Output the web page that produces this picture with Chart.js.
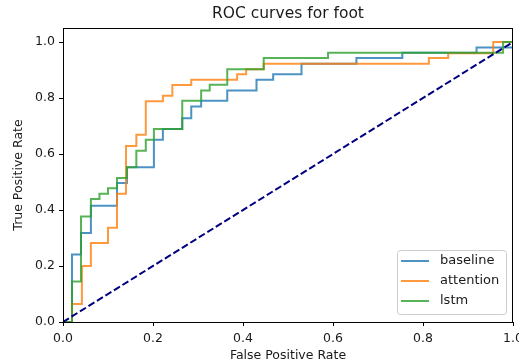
<!DOCTYPE html>
<html>
<head>
<meta charset="utf-8">
<script src="https://cdn.jsdelivr.net/npm/chart.js@4"></script>
<style>
  html, body { margin: 0; padding: 0; background: #fff; }
  #wrap { width: 519px; height: 364px; position: relative; }
</style>
</head>
<body>
<div id="wrap"><canvas id="roc"></canvas></div>
<script>
// ROC curve corners (fpr, tpr); drawn as horizontal-then-vertical steps
const baselineFpr = [0, 0.02, 0.04, 0.062, 0.12, 0.142, 0.202, 0.222, 0.265, 0.285, 0.307, 0.365, 0.43, 0.467, 0.53, 0.652, 0.754, 0.919, 1.0];
const baselineTpr = [0, 0.241, 0.318, 0.415, 0.496, 0.553, 0.651, 0.689, 0.728, 0.77, 0.79, 0.827, 0.865, 0.885, 0.922, 0.943, 0.962, 0.98, 1.0];

const attentionFpr = [0, 0.02, 0.042, 0.062, 0.10, 0.12, 0.14, 0.163, 0.184, 0.222, 0.243, 0.285, 0.387, 0.407, 0.446, 0.813, 0.856, 0.956, 1.0];
const attentionTpr = [0, 0.064, 0.2, 0.282, 0.337, 0.458, 0.629, 0.669, 0.788, 0.808, 0.846, 0.865, 0.885, 0.903, 0.922, 0.943, 0.96, 1.0, 1.0];

const lstmFpr = [0, 0.02, 0.04, 0.062, 0.081, 0.10, 0.12, 0.142, 0.163, 0.184, 0.202, 0.265, 0.307, 0.326, 0.365, 0.446, 0.589, 0.978, 1.0];
const lstmTpr = [0, 0.145, 0.377, 0.439, 0.458, 0.478, 0.514, 0.553, 0.612, 0.651, 0.689, 0.79, 0.827, 0.847, 0.903, 0.943, 0.962, 1.0, 1.0];

const chanceLine = [0, 1];
const tickValues = [0, 0.2, 0.4, 0.6, 0.8, 1.0];

const FONT = 'DejaVu Sans';
const colors = {
  baseline: 'rgba(31, 119, 180, 0.8)',
  attention: 'rgba(255, 127, 14, 0.8)',
  lstm: 'rgba(44, 160, 44, 0.8)',
  chance: '#000080',
  text: '#1a1a1a'
};

function toPoints(xs, ys) {
  return xs.map((x, i) => ({ x: x, y: ys[i] }));
}

// matplotlib-style frame, centered title and a legend inside the axes
const framePlugin = {
  id: 'frame',
  afterDraw(chart) {
    const ctx = chart.ctx;
    const a = chart.chartArea;
    ctx.save();
    ctx.strokeStyle = '#000';
    ctx.lineWidth = 1;
    ctx.strokeRect(Math.round(a.left) + 0.5, Math.round(a.top) + 0.5,
      Math.round(a.right - a.left) - 1, Math.round(a.bottom - a.top));

    ctx.fillStyle = colors.text;
    ctx.font = '15.5px "' + FONT + '"';
    ctx.textAlign = 'center';
    ctx.textBaseline = 'middle';
    ctx.fillText('ROC curves for foot', (a.left + a.right) / 2, 14);

    // legend
    const items = chart.data.datasets.filter(d => d.inLegend)
      .sort((p, q) => p.legendIndex - q.legendIndex);
    const bx = a.right - 116, by = a.bottom - 72, bw = 109, bh = 64;
    ctx.fillStyle = 'rgba(255,255,255,0.8)';
    ctx.strokeStyle = '#cccccc';
    ctx.beginPath();
    ctx.roundRect(bx + 0.5, by + 0.5, bw, bh, 3);
    ctx.fill();
    ctx.stroke();
    ctx.font = '13px "' + FONT + '"';
    ctx.textAlign = 'left';
    items.forEach((d, i) => {
      const y = by + 11 + i * 20;
      ctx.strokeStyle = d.borderColor;
      ctx.lineWidth = 2;
      ctx.beginPath();
      ctx.moveTo(bx + 4, y);
      ctx.lineTo(bx + 32, y);
      ctx.stroke();
      ctx.fillStyle = colors.text;
      ctx.fillText(d.label, bx + 43, y);
    });
    ctx.restore();
  }
};

function axisOptions(title, isY) {
  return {
    type: 'linear',
    min: 0,
    max: isY ? 1.05 : 1.0,
    afterBuildTicks(axis) {
      axis.ticks = tickValues.map(v => ({ value: v }));
    },
    afterFit(axis) {
      if (isY) {
        axis.width = 63;
        axis.paddingTop = 0;
        axis.paddingBottom = 0;
      } else {
        axis.height = 42;
        axis.paddingLeft = 0;
        axis.paddingRight = 0;
      }
    },
    ticks: {
      color: colors.text,
      font: { family: FONT, size: 12.5 },
      padding: isY ? 4 : 5,
      callback: v => v.toFixed(1)
    },
    grid: {
      display: true,
      drawOnChartArea: false,
      drawTicks: true,
      tickLength: 4,
      color: '#000'
    },
    border: { display: true, color: '#000' },
    title: {
      display: true,
      text: title,
      color: colors.text,
      font: { family: FONT, size: 12.5 },
      padding: isY ? { top: 11, bottom: 2 } : { top: 2, bottom: 1 }
    }
  };
}

new Chart(document.getElementById('roc'), {
  type: 'line',
  data: {
    datasets: [
      {
        label: 'baseline',
        data: toPoints(baselineFpr, baselineTpr),
        borderColor: colors.baseline,
        inLegend: true, legendIndex: 0,
        order: 3
      },
      {
        label: 'attention',
        data: toPoints(attentionFpr, attentionTpr),
        borderColor: colors.attention,
        inLegend: true, legendIndex: 1,
        order: 2
      },
      {
        label: 'lstm',
        data: toPoints(lstmFpr, lstmTpr),
        borderColor: colors.lstm,
        inLegend: true, legendIndex: 2,
        order: 1
      },
      {
        label: 'chance',
        data: toPoints(chanceLine, chanceLine),
        borderColor: colors.chance,
        borderDash: [7, 3],
        stepped: false,
        order: 0
      }
    ].map(d => Object.assign({
      borderWidth: 2,
      pointRadius: 0,
      fill: false,
      tension: 0,
      stepped: 'before'
    }, d))
  },
  options: {
    responsive: true,
    maintainAspectRatio: false,
    animation: false,
    layout: { padding: { left: 0, right: 6, top: 28, bottom: 0 } },
    plugins: {
      legend: { display: false },
      title: { display: false },
      tooltip: { enabled: false }
    },
    scales: {
      x: axisOptions('False Positive Rate', false),
      y: axisOptions('True Positive Rate', true)
    }
  },
  plugins: [framePlugin]
});
</script>
</body>
</html>
